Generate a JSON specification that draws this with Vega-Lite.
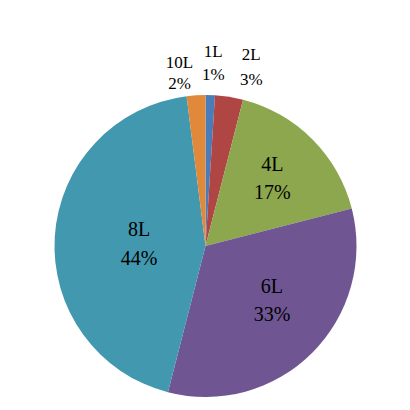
{
  "$schema": "https://vega.github.io/schema/vega-lite/v6.json",
  "autosize": {"type": "none"},
  "padding": {"top": 82, "left": 0, "right": 0, "bottom": 0},
  "width": 411,
  "height": 328,
  "background": "white",
  "view": {"stroke": null},
  "data": {"values": [
    {"idx": 1, "name": "1L", "value": 1, "pct": "1%"},
    {"idx": 2, "name": "2L", "value": 3, "pct": "3%"},
    {"idx": 3, "name": "4L", "value": 17, "pct": "17%"},
    {"idx": 4, "name": "6L", "value": 33, "pct": "33%"},
    {"idx": 5, "name": "8L", "value": 44, "pct": "44%"},
    {"idx": 6, "name": "10L", "value": 2, "pct": "2%"}
  ]},
  "encoding": {
    "theta": {"field": "value", "type": "quantitative", "stack": true},
    "order": {"field": "idx", "type": "quantitative"}
  },
  "layer": [
    {
      "mark": {"type": "arc", "outerRadius": 151},
      "encoding": {
        "color": {
          "field": "name", "type": "nominal",
          "scale": {"domain": ["1L", "2L", "4L", "6L", "8L", "10L"],
                    "range": ["#4a7cba", "#b04644", "#8ca74e", "#6f5592", "#4198af", "#e0893b"]},
          "legend": null
        }
      }
    },
    {"mark": {"type": "text", "radius": 96, "dx": -1, "dy": -13, "font": "Liberation Serif", "fontSize": 20, "color": "black"},
     "encoding": {"text": {"condition": {"test": "datum.name == '4L'", "field": "name"}, "value": ""}}},
    {"mark": {"type": "text", "radius": 96, "dx": -1, "dy": 15, "font": "Liberation Serif", "fontSize": 20, "color": "black"},
     "encoding": {"text": {"condition": {"test": "datum.name == '4L'", "field": "pct"}, "value": ""}}},
    {"mark": {"type": "text", "radius": 94, "dx": 0, "dy": -25, "font": "Liberation Serif", "fontSize": 20, "color": "black"},
     "encoding": {"text": {"condition": {"test": "datum.name == '6L'", "field": "name"}, "value": ""}}},
    {"mark": {"type": "text", "radius": 94, "dx": 0, "dy": 3, "font": "Liberation Serif", "fontSize": 20, "color": "black"},
     "encoding": {"text": {"condition": {"test": "datum.name == '6L'", "field": "pct"}, "value": ""}}},
    {"mark": {"type": "text", "radius": 66.5, "dx": 0, "dy": -12, "font": "Liberation Serif", "fontSize": 20, "color": "black"},
     "encoding": {"text": {"condition": {"test": "datum.name == '8L'", "field": "name"}, "value": ""}}},
    {"mark": {"type": "text", "radius": 66.5, "dx": 0, "dy": 17, "font": "Liberation Serif", "fontSize": 20, "color": "black"},
     "encoding": {"text": {"condition": {"test": "datum.name == '8L'", "field": "pct"}, "value": ""}}},
    {"mark": {"type": "text", "radius": 182, "dx": 2, "dy": -12.5, "font": "Liberation Serif", "fontSize": 17, "color": "black"},
     "encoding": {"text": {"condition": {"test": "datum.name == '1L'", "field": "name"}, "value": ""}}},
    {"mark": {"type": "text", "radius": 182, "dx": 2, "dy": 11, "font": "Liberation Serif", "fontSize": 17, "color": "black"},
     "encoding": {"text": {"condition": {"test": "datum.name == '1L'", "field": "pct"}, "value": ""}}},
    {"mark": {"type": "text", "radius": 184, "dx": 17, "dy": -9, "font": "Liberation Serif", "fontSize": 17, "color": "black"},
     "encoding": {"text": {"condition": {"test": "datum.name == '2L'", "field": "name"}, "value": ""}}},
    {"mark": {"type": "text", "radius": 184, "dx": 17, "dy": 16, "font": "Liberation Serif", "fontSize": 17, "color": "black"},
     "encoding": {"text": {"condition": {"test": "datum.name == '2L'", "field": "pct"}, "value": ""}}},
    {"mark": {"type": "text", "radius": 175, "dx": -15, "dy": -8, "font": "Liberation Serif", "fontSize": 17, "color": "black"},
     "encoding": {"text": {"condition": {"test": "datum.name == '10L'", "field": "name"}, "value": ""}}},
    {"mark": {"type": "text", "radius": 175, "dx": -15, "dy": 13, "font": "Liberation Serif", "fontSize": 17, "color": "black"},
     "encoding": {"text": {"condition": {"test": "datum.name == '10L'", "field": "pct"}, "value": ""}}}
  ]
}
